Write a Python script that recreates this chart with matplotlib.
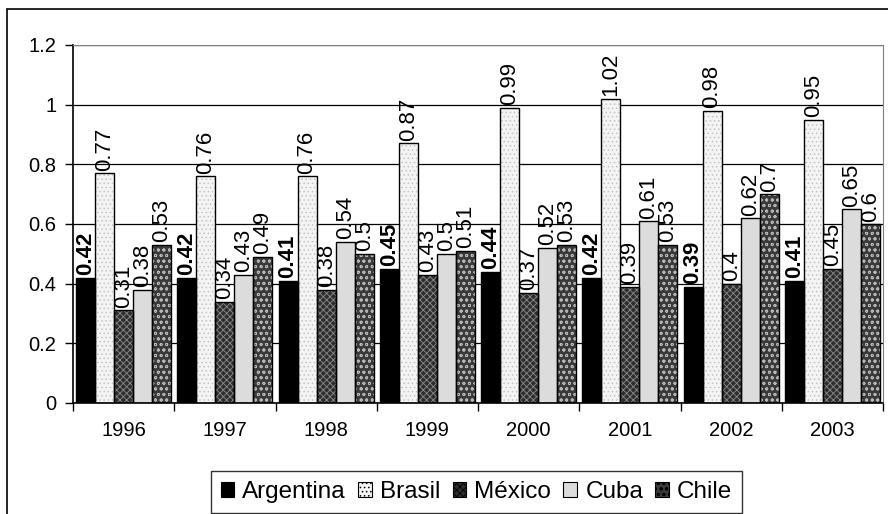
import numpy as np
import matplotlib
matplotlib.use("Agg")
import matplotlib.pyplot as plt
from matplotlib.patches import Rectangle, Patch

plt.rcParams["font.family"] = ["Liberation Sans", "DejaVu Sans"]
plt.rcParams["hatch.linewidth"] = 0.6

years = ["1996", "1997", "1998", "1999", "2000", "2001", "2002", "2003"]
countries = ["Argentina", "Brasil", "México", "Cuba", "Chile"]

argentina = [0.42, 0.42, 0.41, 0.45, 0.44, 0.42, 0.39, 0.41]
brasil = [0.77, 0.76, 0.76, 0.87, 0.99, 1.02, 0.98, 0.95]
mexico = [0.31, 0.34, 0.38, 0.43, 0.37, 0.39, 0.40, 0.45]
cuba = [0.38, 0.43, 0.54, 0.50, 0.52, 0.61, 0.62, 0.65]
chile = [0.53, 0.49, 0.50, 0.51, 0.53, 0.53, 0.70, 0.60]
series = [argentina, brasil, mexico, cuba, chile]

# face colour, hatch, hatch colour for each country
styles = [
    ("black", None, "black"),
    ("#f4f4f4", "....", "#c4c4c4"),
    ("#2e2e2e", "xxxxx", "#8c8c8c"),
    ("#dcdcdc", None, "#dcdcdc"),
    ("#3a3a3a", "ooo", "#b8b8b8"),
]

fig = plt.figure(figsize=(8.88, 5.14), dpi=100)
ax = fig.add_axes([0.0822, 0.216, 0.9122, 0.6965])

# outer chart frame
fig.add_artist(Rectangle((7 / 888, -0.5), 2, 1.5 - 9 / 514, transform=fig.transFigure,
                         fill=False, edgecolor="black", lw=1.2))

x = np.arange(len(years))
width = 0.188
for i, (vals, (fc, hatch, hc)) in enumerate(zip(series, styles)):
    pos = x + (i - 2) * width
    ax.bar(pos, vals, width, color=fc, hatch=hatch, edgecolor=hc, lw=0, zorder=2)
    ax.bar(pos, vals, width, fill=False, edgecolor="black", lw=1.0, zorder=3)
    for p, v in zip(pos, vals):
        ax.text(p, v + 0.008, f"{v:g}", rotation=90, ha="center", va="bottom",
                fontsize=16, fontweight="bold" if i == 0 else "normal", zorder=4)

ax.set_xlim(-0.5, len(years) - 0.5)
ax.set_ylim(0, 1.2)
ax.set_yticks(np.arange(0, 1.21, 0.2))
ax.set_yticklabels(["0", "0.2", "0.4", "0.6", "0.8", "1", "1.2"], fontsize=14.5)
ax.yaxis.grid(True, color="black", lw=0.9)
ax.set_axisbelow(True)

ax.set_xticks(x)
ax.set_xticklabels(years, fontsize=14.5)
ax.tick_params(axis="x", length=0, pad=13)
ax.set_xticks(np.arange(-0.5, len(years)), minor=True)
ax.tick_params(axis="x", which="minor", length=6, width=1, direction="out")
ax.tick_params(axis="y", length=6, width=1, direction="out", pad=6)

for side in ["top", "right"]:
    ax.spines[side].set_color("#808080")
for side in ["left", "bottom"]:
    ax.spines[side].set_color("black")
    ax.spines[side].set_linewidth(1.2)

handles = [Patch(facecolor=fc, hatch=h, edgecolor="black", lw=0.8) for fc, h, hc in styles]
leg = fig.legend(handles, countries, ncol=5, loc="center",
                 bbox_to_anchor=(476.5 / 888, 1 - 492 / 514), fontsize=17.5,
                 frameon=True, fancybox=False, edgecolor="black",
                 handlelength=0.55, handleheight=0.55, handletextpad=0.35,
                 columnspacing=0.5, borderpad=0.4)
leg.get_frame().set_linewidth(1.0)

fig.savefig("out.png", dpi=100)
